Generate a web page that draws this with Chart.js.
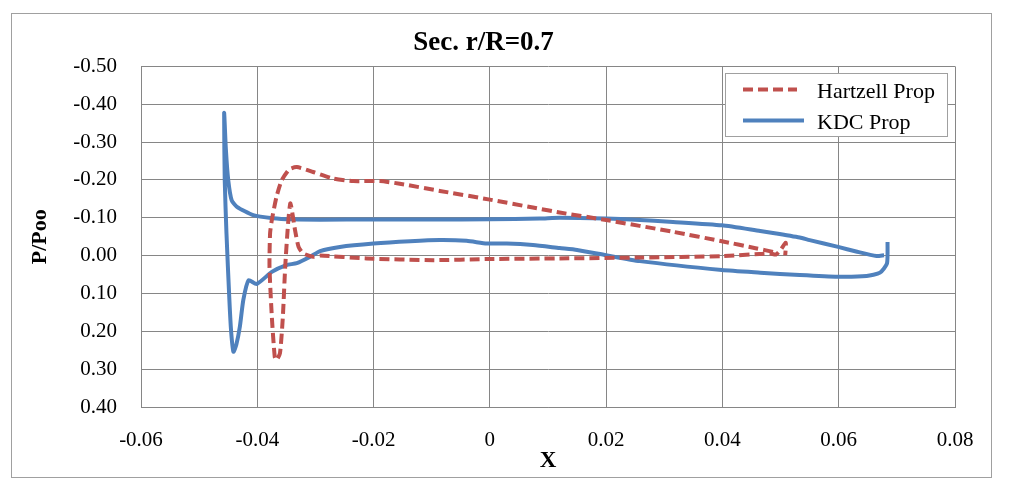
<!DOCTYPE html>
<html>
<head>
<meta charset="UTF-8">
<script src="https://cdn.jsdelivr.net/npm/chart.js@4/dist/chart.umd.min.js"></script>
<style>
  html, body { margin: 0; padding: 0; background: #fff; }
  #wrap { width: 1009px; height: 494px; }
</style>
</head>
<body>
<div id="wrap"><canvas id="chart" width="1009" height="494"></canvas></div>
<script>
'use strict';

// Sec. r/R=0.7 — P/Poo vs X

const xTickValues = [-0.06, -0.04, -0.02, 0, 0.02, 0.04, 0.06, 0.08];
const xTickLabels = ['-0.06', '-0.04', '-0.02', '0', '0.02', '0.04', '0.06', '0.08'];
const yTickValues = [-0.5, -0.4, -0.3, -0.2, -0.1, 0, 0.1, 0.2, 0.3, 0.4];
const yTickLabels = ['-0.50', '-0.40', '-0.30', '-0.20', '-0.10', '0.00', '0.10', '0.20', '0.30', '0.40'];

const seriesNames = ['Hartzell Prop', 'KDC Prop'];

// Hartzell Prop (dashed)
const hartX = [0.0487, 0.0459, 0.0399, 0.0315, 0.0200, 0.0120, 0.0074, 0.0000, -0.0086, -0.0155,
  -0.0189, -0.0235, -0.0270, -0.0304, -0.0332, -0.0345, -0.0358, -0.0367, -0.0375, -0.0378,
  -0.0379, -0.0375, -0.0370, -0.0367, -0.0361, -0.0356, -0.0352, -0.0347, -0.0343, -0.0335,
  -0.0329, -0.0321, -0.0304, -0.0292, -0.0212, -0.0097, -0.0005, 0.0120, 0.0258, 0.0399,
  0.0482, 0.0492, 0.0500, 0.0509, 0.0508];
const hartY = [-0.010, -0.019, -0.038, -0.063, -0.094, -0.114, -0.127, -0.148, -0.171, -0.190,
  -0.197, -0.197, -0.204, -0.221, -0.234, -0.228, -0.199, -0.155, -0.094, -0.059,
  0.030, 0.161, 0.267, 0.276, 0.258, 0.161, 0.030, -0.085, -0.138, -0.067,
  -0.023, -0.006, 0.003, 0.000, 0.0075, 0.012, 0.009, 0.0075, 0.005, 0.0013,
  -0.0057, -0.003, -0.015, -0.034, -0.001];

// KDC Prop (solid)
const kdcX = [0.0678, 0.0665, 0.0630, 0.0599, 0.0550, 0.0533, 0.0487, 0.0465, 0.0399, 0.0315,
  0.0250, 0.0200, 0.0120, 0.0086, 0.0000, -0.0100, -0.0200, -0.0292, -0.0340, -0.0373,
  -0.0407, -0.0435, -0.0444, -0.0450, -0.0454, -0.0457, -0.0456, -0.0453, -0.0448, -0.0445,
  -0.0441, -0.0436, -0.0430, -0.0424, -0.0415, -0.0401, -0.0375, -0.0350, -0.0332, -0.0309,
  -0.0292, -0.0258, -0.0200, -0.0137, -0.0086, -0.0040, -0.0005, 0.0029, 0.0074, 0.0120,
  0.0150, 0.0200, 0.0258, 0.0399, 0.0465, 0.0533, 0.0599, 0.0648, 0.0671, 0.0683, 0.0684];
const kdcY = [-0.001, 0.001, -0.011, -0.023, -0.041, -0.048, -0.060, -0.065, -0.080, -0.089,
  -0.095, -0.098, -0.100, -0.098, -0.096, -0.0955, -0.0955, -0.095, -0.096, -0.099,
  -0.107, -0.129, -0.146, -0.200, -0.280, -0.377, -0.200, -0.059, 0.117, 0.200,
  0.254, 0.235, 0.188, 0.117, 0.065, 0.075, 0.043, 0.025, 0.020, 0.003,
  -0.012, -0.023, -0.032, -0.038, -0.041, -0.039, -0.032, -0.032, -0.028, -0.020,
  -0.015, -0.001, 0.0145, 0.038, 0.045, 0.0515, 0.056, 0.054, 0.045, 0.021, -0.036];

const COLORES = { hart: '#c0504d', kdc: '#4f81bd' };
const FONT = "'Liberation Serif', 'Times New Roman', serif";

const toPoints = (xs, ys) => xs.map((x, i) => ({ x, y: ys[i] }));

// marco exterior + leyenda dentro del área
const marcoYLeyenda = {
  id: 'marcoYLeyenda',
  afterDraw(chart) {
    const ctx = chart.ctx;
    ctx.save();
    ctx.strokeStyle = '#a0a0a0';
    ctx.lineWidth = 1;
    ctx.strokeRect(11.5, 13.5, 980, 464);

    // leyenda
    ctx.fillStyle = '#fff';
    ctx.fillRect(725, 73, 222, 63);
    ctx.strokeStyle = '#a0a0a0';
    ctx.strokeRect(725.5, 73.5, 222, 63);

    const items = chart.data.datasets.map(ds => ({
      label: ds.label, color: ds.borderColor, dash: ds.borderDash || []
    }));
    const rows = [{ y: 89.5, x2: 797, base: 98 }, { y: 120.5, x2: 804, base: 129 }];
    items.forEach((it, i) => {
      const r = rows[i];
      ctx.beginPath();
      ctx.setLineDash(it.dash);
      ctx.strokeStyle = it.color;
      ctx.lineWidth = 4;
      ctx.moveTo(743, r.y);
      ctx.lineTo(r.x2, r.y);
      ctx.stroke();
      ctx.setLineDash([]);
      ctx.fillStyle = '#000';
      ctx.font = `22px ${FONT}`;
      ctx.textAlign = 'left';
      ctx.textBaseline = 'alphabetic';
      ctx.fillText(it.label, 817, r.base);
    });
    ctx.restore();
  }
};

new Chart(document.getElementById('chart'), {
  type: 'scatter',
  data: {
    datasets: [
      {
        label: seriesNames[0],
        data: toPoints(hartX, hartY),
        showLine: true,
        borderColor: COLORES.hart,
        backgroundColor: COLORES.hart,
        borderWidth: 4,
        borderDash: [10, 5],
        pointRadius: 0,
        tension: 0.2
      },
      {
        label: seriesNames[1],
        data: toPoints(kdcX, kdcY),
        showLine: true,
        borderColor: COLORES.kdc,
        backgroundColor: COLORES.kdc,
        borderWidth: 4,
        pointRadius: 0,
        tension: 0.2
      }
    ]
  },
  options: {
    responsive: false,
    animation: false,
    events: [],
    layout: { padding: { left: 12, right: 54, top: 14, bottom: 17 } },
    plugins: {
      legend: { display: false },
      tooltip: { enabled: false },
      title: {
        display: true,
        text: 'Sec. r/R=0.7',
        color: '#000',
        font: { family: FONT, size: 27, weight: 'bold' },
        padding: { top: 13, bottom: 7 }
      }
    },
    scales: {
      x: {
        type: 'linear',
        min: -0.06,
        max: 0.08,
        afterBuildTicks: s => { s.ticks = xTickValues.map(v => ({ value: v })); },
        afterFit: s => { s.height = 477 - 407; },
        ticks: {
          callback: (v, i) => xTickLabels[i],
          color: '#000',
          font: { family: FONT, size: 21 },
          padding: 21,
          maxRotation: 0
        },
        grid: { color: '#868686', lineWidth: 1, drawTicks: false },
        border: { color: '#868686' },
        title: {
          display: true,
          text: 'X',
          color: '#000',
          font: { family: FONT, size: 23, weight: 'bold' },
          padding: { top: 0, bottom: 2 }
        }
      },
      y: {
        type: 'linear',
        reverse: true,
        min: -0.5,
        max: 0.4,
        afterBuildTicks: s => { s.ticks = yTickValues.map(v => ({ value: v })); },
        afterFit: s => { s.width = 141 - 12; },
        ticks: {
          callback: (v, i) => yTickLabels[i],
          color: '#000',
          font: { family: FONT, size: 21 },
          padding: 24
        },
        grid: { color: '#868686', lineWidth: 1, drawTicks: false },
        border: { color: '#868686' },
        title: {
          display: true,
          text: 'P/Poo',
          color: '#000',
          font: { family: FONT, size: 22, weight: 'bold' },
          padding: { top: 15, bottom: 0 }
        }
      }
    }
  },
  plugins: [marcoYLeyenda]
});
</script>
</body>
</html>
